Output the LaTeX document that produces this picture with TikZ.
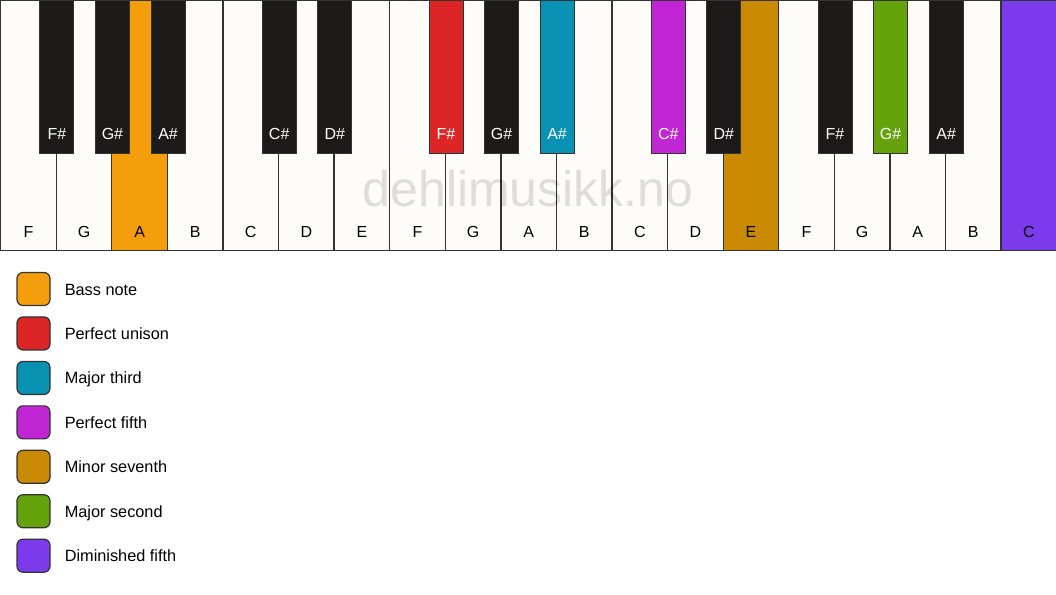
\documentclass[tikz,border=0pt]{standalone}
\usepackage{fontspec}
\setmainfont{Liberation Sans}
\usepackage{xcolor}
\usetikzlibrary{positioning}
\definecolor{keywhite}{HTML}{FDFCF8}
\definecolor{keyblack}{HTML}{1C1B19}
\definecolor{keyline}{HTML}{333333}
\definecolor{bass}{HTML}{F59E0B}
\definecolor{unison}{HTML}{DC2626}
\definecolor{majthird}{HTML}{0891B2}
\definecolor{perffifth}{HTML}{C026D3}
\definecolor{minseventh}{HTML}{CA8A04}
\definecolor{majsecond}{HTML}{65A30D}
\definecolor{dimfifth}{HTML}{7C3AED}
\tikzset{%
	whitekey/.style   = {draw=keyline, line width=1.3pt, rectangle, minimum width=55.58pt, minimum height=250pt, inner sep=0pt, anchor=north west},
	blackkey/.style   = {draw=keyline, line width=0.8pt, rectangle, minimum width=34pt, minimum height=153pt, inner sep=0pt, anchor=north},
	keylabel/.style   = {font=\fontsize{16}{19}\selectfont, text height=11.5pt, text depth=0pt, inner sep=0pt},
	swatch/.style     = {draw=keyline, line width=1.2pt, rounded corners=6pt, minimum size=33pt, inner sep=0pt},
	legendtext/.style = {font=\fontsize{16.3}{19}\selectfont, text height=11.5pt, text depth=3.5pt, inner sep=0pt, anchor=west},
}
\begin{document}
\begin{tikzpicture}[x=1pt,y=-1pt]
	\useasboundingbox[fill=white] (0,0) rectangle (1056,594);
	
	% white keys
	\foreach \n/\c [count=\i from 0] in {F/keywhite,G/keywhite,A/bass,B/keywhite,C/keywhite,D/keywhite,E/keywhite,F/keywhite,G/keywhite,A/keywhite,B/keywhite,C/keywhite,D/keywhite,E/minseventh,F/keywhite,G/keywhite,A/keywhite,B/keywhite,C/dimfifth}{
		\node[whitekey, fill=\c] (w\i) at (\i*55.58,0) {};
		\node[keylabel, above=20pt of w\i.south, anchor=center] (wl\i) {\n};
	}
	
	\node[font=\fontsize{50}{60}\selectfont, text=black, opacity=0.12] (mark) at (528,189) {dehlimusikk.no};  % watermark
	
	% black keys, placed at the right edge of white key \b
	\foreach \n/\b/\c in {F\#/0/keyblack,G\#/1/keyblack,A\#/2/keyblack,C\#/4/keyblack,D\#/5/keyblack,F\#/7/unison,G\#/8/keyblack,A\#/9/majthird,C\#/11/perffifth,D\#/12/keyblack,F\#/14/keyblack,G\#/15/majsecond,A\#/16/keyblack}{
		\node[blackkey, fill=\c] (b\b) at (w\b.north east) {};
		\node[keylabel, text=white, above=20pt of b\b.south, anchor=center] (bl\b) {\n};
	}
	
	% legend
	\foreach \t/\c [count=\k from 0] in {Bass note/bass,Perfect unison/unison,Major third/majthird,Perfect fifth/perffifth,Minor seventh/minseventh,Major second/majsecond,Diminished fifth/dimfifth}{
		\node[swatch, fill=\c] (s\k) at (33.5,{289+44.45*\k}) {};
		\node[legendtext, right=14pt of s\k, yshift=-2pt] (t\k) {\t};
	}
\end{tikzpicture}
\end{document}
